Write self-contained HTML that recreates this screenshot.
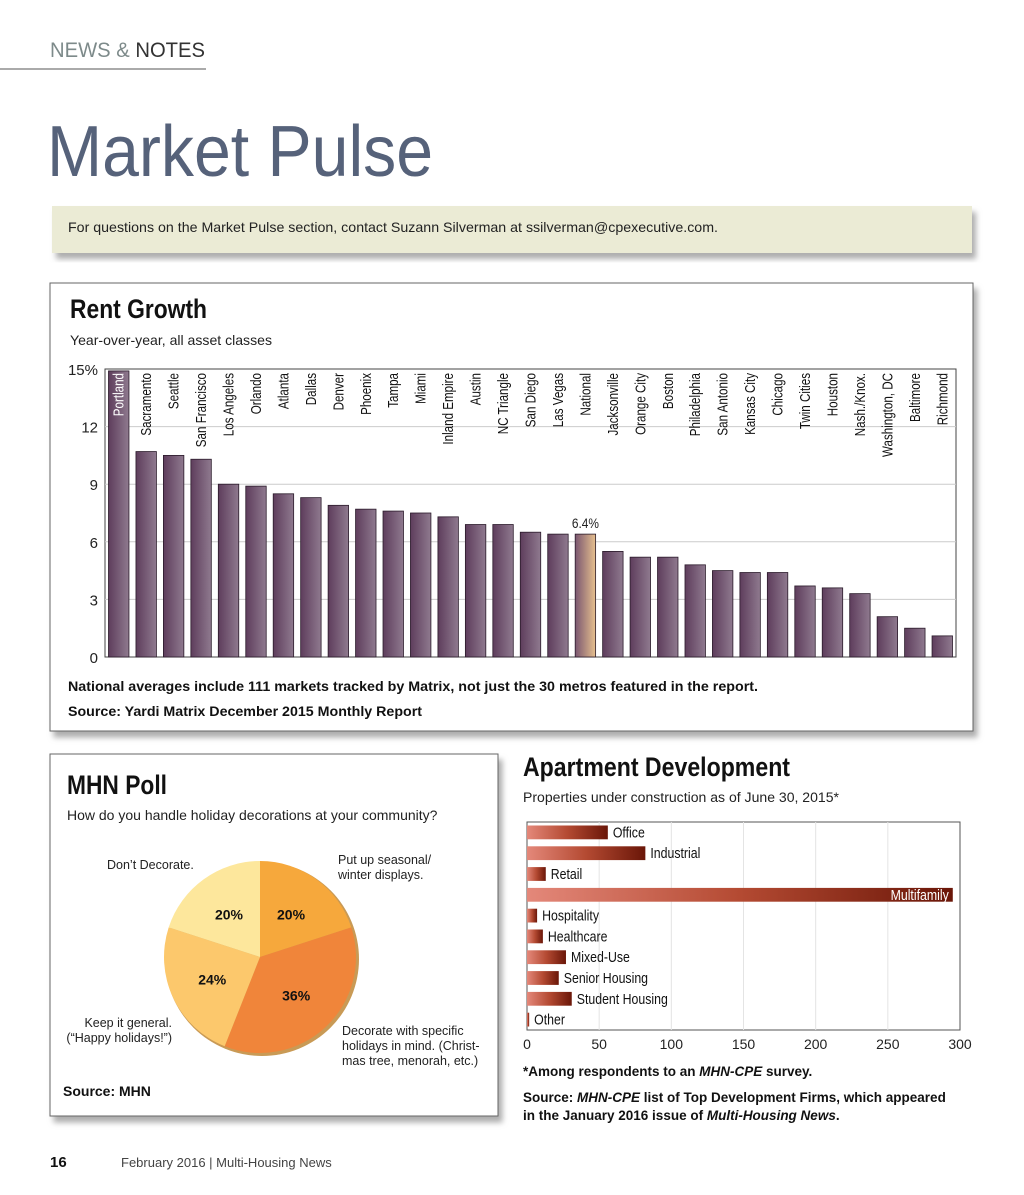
<!DOCTYPE html>
<html><head><meta charset="utf-8"><style>
body{margin:0;background:#fff;}
svg{display:block;font-family:"Liberation Sans",sans-serif;}
</style></head><body>
<svg id="page" width="1024" height="1195" viewBox="0 0 1024 1195">
<defs>
<linearGradient id="vb" x1="0" x2="1"><stop offset="0" stop-color="#5e3d5c"/><stop offset="1" stop-color="#8f7a8f"/></linearGradient>
<linearGradient id="nb" x1="0" x2="1"><stop offset="0" stop-color="#7a5670"/><stop offset="1" stop-color="#e6c08e"/></linearGradient>
<linearGradient id="hb" x1="0" x2="1"><stop offset="0" stop-color="#e4887a"/><stop offset="0.5" stop-color="#b44a32"/><stop offset="1" stop-color="#6a1608"/></linearGradient>
<filter id="sh" x="-5%" y="-5%" width="115%" height="125%"><feDropShadow dx="4" dy="6" stdDeviation="3" flood-color="#999" flood-opacity="0.8"/></filter>
</defs>
<text x="50" y="57" font-size="21" fill="#7d8a8a" textLength="155" lengthAdjust="spacingAndGlyphs">NEWS &amp; <tspan fill="#333">NOTES</tspan></text>
<rect x="0" y="68" width="206" height="2" fill="#aaa"/>
<text x="47" y="176" font-size="72" fill="#56627a" textLength="386" lengthAdjust="spacingAndGlyphs">Market Pulse</text>
<rect x="52" y="206" width="920" height="47" fill="#ebebd5" filter="url(#sh)"/>
<text x="68" y="232" font-size="14" fill="#222" textLength="650" lengthAdjust="spacingAndGlyphs">For questions on the Market Pulse section, contact Suzann Silverman at ssilverman@cpexecutive.com.</text>

<rect x="50" y="283" width="923" height="448" fill="#fff" stroke="#666" filter="url(#sh)"/>
<text x="70" y="318" font-size="27" font-weight="bold" fill="#111" textLength="137" lengthAdjust="spacingAndGlyphs">Rent Growth</text>
<text x="70" y="345" font-size="14" fill="#222" textLength="202" lengthAdjust="spacingAndGlyphs">Year-over-year, all asset classes</text>
<g id="rg"></g>
<text x="68" y="691" font-size="13.5" font-weight="bold" fill="#111" textLength="690" lengthAdjust="spacingAndGlyphs">National averages include 111 markets tracked by Matrix, not just the 30 metros featured in the report.</text>
<text x="68" y="716" font-size="13.5" font-weight="bold" fill="#111" textLength="354" lengthAdjust="spacingAndGlyphs">Source: Yardi Matrix December 2015 Monthly Report</text>

<rect x="50" y="754" width="448" height="362" fill="#fff" stroke="#666" filter="url(#sh)"/>
<text x="67" y="794" font-size="27" font-weight="bold" fill="#111" textLength="100" lengthAdjust="spacingAndGlyphs">MHN Poll</text>
<text x="67" y="820" font-size="14" fill="#222">How do you handle holiday decorations at your community?</text>
<g id="pie"></g>
<g font-size="12.5" fill="#222">
<text x="107" y="869">Don’t Decorate.</text>
<text x="338" y="864">Put up seasonal/<tspan x="338" dy="15">winter displays.</tspan></text>
<text x="172" y="1027" text-anchor="end">Keep it general.<tspan x="172" dy="15">(“Happy holidays!”)</tspan></text>
<text x="342" y="1035">Decorate with specific<tspan x="342" dy="15">holidays in mind. (Christ-</tspan><tspan x="342" dy="15">mas tree, menorah, etc.)</tspan></text>
</g>
<text x="63" y="1096" font-size="14" font-weight="bold" fill="#111">Source: MHN</text>

<text x="523" y="776" font-size="27" font-weight="bold" fill="#111" textLength="267" lengthAdjust="spacingAndGlyphs">Apartment Development</text>
<text x="523" y="802" font-size="13.5" fill="#222" textLength="316" lengthAdjust="spacingAndGlyphs">Properties under construction as of June 30, 2015*</text>
<g id="hd"></g>
<text x="523" y="1076" font-size="13.5" font-weight="bold" fill="#111">*Among respondents to an <tspan font-style="italic">MHN-CPE</tspan> survey.</text>
<text x="523" y="1102" font-size="13.5" font-weight="bold" fill="#111">Source: <tspan font-style="italic">MHN-CPE</tspan> list of Top Development Firms, which appeared<tspan x="523" dy="18">in the January 2016 issue of </tspan><tspan font-style="italic">Multi-Housing News</tspan>.</text>

<text x="50" y="1167" font-size="15" font-weight="bold" fill="#111">16</text>
<text x="121" y="1167" font-size="13" fill="#444">February 2016  |  Multi-Housing News</text>
</svg>
<script>
const NS="http://www.w3.org/2000/svg";
const rgCities=["Portland","Sacramento","Seattle","San Francisco","Los Angeles","Orlando","Atlanta","Dallas","Denver","Phoenix","Tampa","Miami","Inland Empire","Austin","NC Triangle","San Diego","Las Vegas","National","Jacksonville","Orange City","Boston","Philadelphia","San Antonio","Kansas City","Chicago","Twin Cities","Houston","Nash./Knox.","Washington, DC","Baltimore","Richmond"];
const rgValues=[14.9,10.7,10.5,10.3,9.0,8.9,8.5,8.3,7.9,7.7,7.6,7.5,7.3,6.9,6.9,6.5,6.4,6.4,5.5,5.2,5.2,4.8,4.5,4.4,4.4,3.7,3.6,3.3,2.1,1.5,1.1];
const rgTicks=[0,3,6,9,12,15];
const rgTickLabels=["0","3","6","9","12","15%"];
const hdCats=["Office","Industrial","Retail","Multifamily","Hospitality","Healthcare","Mixed-Use","Senior Housing","Student Housing","Other"];
const hdValues=[56,82,13,295,7,11,27,22,31,1.5];
const hdTicks=[0,50,100,150,200,250,300];
const pieLabels=["20%","36%","24%","20%"];
const pieValues=[20,36,24,20];
const pieColors=["#f6a83c","#f0853a","#fcc86c","#fde79c"];

function el(t,a,p){const e=document.createElementNS(NS,t);for(const k in a)e.setAttribute(k,a[k]);p.appendChild(e);return e;}
function narrow(t,f){const l=t.getComputedTextLength();t.setAttribute('textLength',(l*f).toFixed(1));t.setAttribute('lengthAdjust','spacingAndGlyphs');}

(function(){
 const g=document.getElementById('rg');
 const x0=105,x1=956,yTop=369,yBot=657,max=15;
 const y=v=>yBot-(v/max)*(yBot-yTop);
 const step=(x1-x0)/rgCities.length;
 const bx=i=>x0+step*i+3.5;
 const bw=step-7;
 const fr=el('rect',{x:x0,y:yTop,width:x1-x0,height:yBot-yTop,fill:'#fff',stroke:'#444'},g);
 
 
 rgTicks.forEach((t,i)=>{
  if(t>0&&t<max){const l=el('line',{x1:x0,x2:x1,y1:y(t),y2:y(t),stroke:'#ccc'},g);
   
   }
  const tx=el('text',{x:x0-7,y:y(t)+6,'text-anchor':'end','font-size':15,fill:'#222'},g);
  tx.textContent=rgTickLabels[i];
  
  
 });
 rgCities.forEach((c,i)=>{
  const nat=c==="National";
  const r=el('rect',{x:bx(i),y:y(rgValues[i]),width:bw,height:yBot-y(rgValues[i]),fill:nat?'url(#nb)':'url(#vb)',stroke:'#2a1a2a','stroke-width':0.8},g);
  
  
  const cx=bx(i)+bw/2+5;
  const t=el('text',{x:0,y:0,'font-size':14.5,fill:i===0?'#fff':'#111','text-anchor':'end',transform:`translate(${cx},373) rotate(-90)`},g);
  t.textContent=c;
  
  
  narrow(t,0.8);
  if(nat){const v=el('text',{x:bx(i)+bw/2,y:y(rgValues[i])-6,'text-anchor':'middle','font-size':14,fill:'#222'},g);
   v.textContent=rgValues[i].toFixed(1)+'%';
   
   
   narrow(v,0.85);}
 });
})();

(function(){
 const g=document.getElementById('pie');
 const cx=260,cy=957,r=96;
 const tot=pieValues.reduce((a,b)=>a+b,0);
 let a=0;
 const names=['slice-seasonal','slice-specific','slice-general','slice-dont-decorate'];
 const c=el('circle',{cx:cx+2,cy:cy+2,r:r+1,fill:'#c99a55'},g);
 
 
 pieValues.forEach((v,i)=>{
  const a0=a,a1=a+v/tot*2*Math.PI;a=a1;
  const p=(t)=>[cx+r*Math.sin(t),cy-r*Math.cos(t)];
  const [xa,ya]=p(a0),[xb,yb]=p(a1);
  const s=el('path',{d:`M${cx},${cy}L${xa},${ya}A${r},${r} 0 ${a1-a0>Math.PI?1:0} 1 ${xb},${yb}Z`,fill:pieColors[i]},g);
  
  
  const m=(a0+a1)/2,lr=r*0.55;
  const t=el('text',{x:cx+lr*Math.sin(m),y:cy-lr*Math.cos(m)+5,'text-anchor':'middle','font-size':14,'font-weight':'bold',fill:'#111'},g);
  t.textContent=pieLabels[i];
  
  
 });
})();

(function(){
 const g=document.getElementById('hd');
 const x0=527,x1=960,y0=822,y1=1030,max=300;
 const x=v=>x0+v/max*(x1-x0);
 const fr=el('rect',{x:x0,y:y0,width:x1-x0,height:y1-y0,fill:'#fff',stroke:'#555'},g);
 
 
 hdTicks.forEach(t=>{
  if(t>0&&t<max){const l=el('line',{x1:x(t),x2:x(t),y1:y0,y2:y1,stroke:'#e4e4e4'},g);
   
   }
  const tx=el('text',{x:x(t),y:1049,'text-anchor':'middle','font-size':14,fill:'#222'},g);
  tx.textContent=t;
  
  
 });
 const step=(y1-y0)/hdCats.length;
 hdCats.forEach((c,i)=>{
  const by=y0+step*i+3.5,bh=step-7;
  const r=el('rect',{x:x0,y:by,width:x(hdValues[i])-x0,height:bh,fill:'url(#hb)'},g);
  
  
  const mf=c==="Multifamily";
  const t=el('text',{x:mf?x(hdValues[i])-4:x(hdValues[i])+5,y:by+bh/2+5,'text-anchor':mf?'end':'start','font-size':14.5,fill:mf?'#fff':'#111'},g);
  t.textContent=c;
  
  
  narrow(t,0.85);
 });
})();
</script>
</body></html>
